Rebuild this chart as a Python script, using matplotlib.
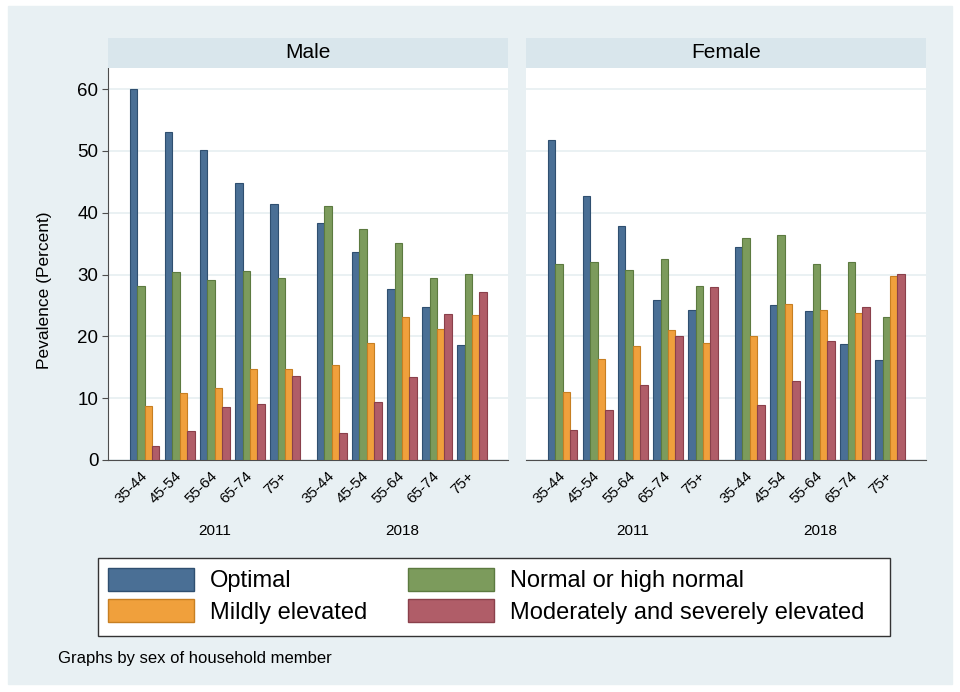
import matplotlib
matplotlib.use("Agg")
import matplotlib.pyplot as plt
from matplotlib.patches import Rectangle, Patch

plt.rcParams["font.family"] = ["Liberation Sans", "DejaVu Sans"]

BG, STRIP, GRID, AXIS = "#e8f0f3", "#d9e6ec", "#e6eff1", "#4d4d4d"

ages = ["35-44", "45-54", "55-64", "65-74", "75+"]
years = ["2011", "2018"]
series_names = ["Optimal", "Normal or high normal", "Mildly elevated",
                "Moderately and severely elevated"]
colors = ["#4a6f95", "#7c9b5c", "#f0a03c", "#b05d68"]
edges = ["#2f4f70", "#5c7a40", "#c77f22", "#8a404b"]

# values per sex: one list per series, 2011 ages then 2018 ages
male = {
    "Optimal": [60.0, 53.1, 50.1, 44.8, 41.4, 38.4, 33.7, 27.6, 24.8, 18.6],
    "Normal or high normal": [28.2, 30.4, 29.1, 30.6, 29.4, 41.0, 37.3, 35.1, 29.5, 30.1],
    "Mildly elevated": [8.7, 10.9, 11.7, 14.7, 14.7, 15.4, 18.9, 23.2, 21.2, 23.5],
    "Moderately and severely elevated": [2.2, 4.7, 8.5, 9.1, 13.6, 4.4, 9.3, 13.4, 23.6, 27.1],
}
female = {
    "Optimal": [51.7, 42.7, 37.9, 25.8, 24.2, 34.4, 25.0, 24.1, 18.7, 16.2],
    "Normal or high normal": [31.7, 32.1, 30.8, 32.5, 28.2, 35.9, 36.4, 31.7, 32.0, 23.2],
    "Mildly elevated": [11.0, 16.3, 18.5, 21.0, 18.9, 20.0, 25.2, 24.3, 23.8, 29.8],
    "Moderately and severely elevated": [4.9, 8.1, 12.1, 20.0, 27.9, 8.9, 12.7, 19.2, 24.8, 30.1],
}

W, H = 960, 692
fig = plt.figure(figsize=(W / 100, H / 100), dpi=100)
fig.patch.set_facecolor("white")
fig.patches.append(Rectangle((8 / W, 1 - 684 / H), 944 / W, 678 / H,
                             transform=fig.transFigure, color=BG, zorder=-10))

gap = 0.34
centers = [i for i in range(5)] + [5 + gap + i for i in range(5)]
bw = 0.21
offsets = [-1.5 * bw, -0.5 * bw, 0.5 * bw, 1.5 * bw]

panels = [("Male", male, 108), ("Female", female, 526)]
for k, (title, data, left) in enumerate(panels):
    ax = fig.add_axes([left / W, 1 - 460 / H, 400 / W, 392 / H])
    ax.set_facecolor("white")
    for j, name in enumerate(series_names):
        xs = [c + offsets[j] for c in centers]
        ax.bar(xs, data[name], width=bw, color=colors[j], edgecolor=edges[j],
               linewidth=0.8, zorder=3)
    ax.set_xlim(-1.05, 10.37)
    ax.set_ylim(0, 63.4)
    ax.set_yticks(range(0, 61, 10))
    ax.grid(axis="y", color=GRID, linewidth=1.2, zorder=0)
    ax.set_xticks(centers)
    ax.set_xticklabels(ages * 2, rotation=45, ha="right", va="center",
                       rotation_mode="anchor", fontsize=11)
    ax.tick_params(axis="x", length=0, pad=10)
    for side in ("top", "right"):
        ax.spines[side].set_visible(False)
    ax.spines["bottom"].set_color(AXIS)
    if k == 0:
        ax.spines["left"].set_color(AXIS)
        ax.tick_params(axis="y", length=4, color=AXIS, labelsize=13.5, pad=3)
    else:
        ax.spines["left"].set_visible(False)
        ax.tick_params(axis="y", length=0, labelleft=False)
    for yi, yr in enumerate(years):
        cx = sum(centers[yi * 5:(yi + 1) * 5]) / 5
        ax.text(cx, -0.182, yr, transform=ax.get_xaxis_transform(),
                ha="center", va="center", fontsize=11)
    sax = fig.add_axes([left / W, 1 - 68 / H, 400 / W, 30 / H])
    sax.set_facecolor(STRIP)
    sax.set_xticks([])
    sax.set_yticks([])
    for s in sax.spines.values():
        s.set_visible(False)
    sax.text(0.5, 0.5, title, ha="center", va="center", fontsize=15,
             transform=sax.transAxes)

fig.text(45 / W, 1 - 290 / H, "Pevalence (Percent)", rotation=90,
         ha="center", va="center", fontsize=12.5)

# legend box drawn separately so its size matches the original
fig.patches.append(Rectangle((98 / W, 1 - 636 / H), 792 / W, 78 / H,
                             transform=fig.transFigure, facecolor="white",
                             edgecolor="#333333", linewidth=1.0, zorder=1))
handles = [Patch(facecolor=colors[i], edgecolor=edges[i], label=series_names[i])
           for i in (0, 2, 1, 3)]
fig.legend(handles=handles, loc="upper left", ncol=2, frameon=False,
           bbox_to_anchor=(98 / W, 1 - 558 / H),
           borderaxespad=0, fontsize=17, handlelength=3.64,
           handleheight=1.1, borderpad=0.42, labelspacing=0.3,
           handletextpad=0.68, columnspacing=1.72)

fig.text(58 / W, 1 - 659 / H, "Graphs by sex of household member",
         ha="left", va="center", fontsize=12)

fig.savefig("out.png", dpi=100)
